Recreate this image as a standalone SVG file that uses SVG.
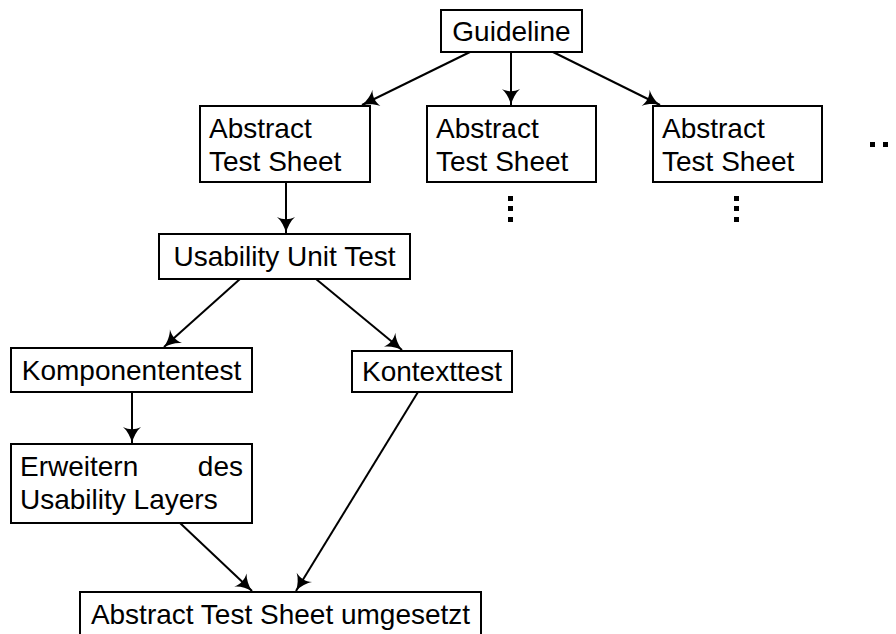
<svg xmlns="http://www.w3.org/2000/svg" width="896" height="634" viewBox="0 0 896 634">
<style>
.box{fill:#fff;stroke:#000;stroke-width:2}
.t{font-family:"Liberation Sans",Arial,Helvetica,sans-serif;font-size:28px;fill:#000}
.c{text-anchor:middle}
.e{text-anchor:end}
.ln{stroke:#000;stroke-width:2;fill:none;marker-end:url(#ah)}
.dot{fill:#000}
</style>
<defs>
<marker id="ah" markerUnits="userSpaceOnUse" markerWidth="22" markerHeight="22" viewBox="-2 -11 22 22" refX="16" refY="0" orient="auto">
<path d="M16,0 C10,1.5 4,4.5 0,9 C3,3 3,-3 0,-9 C4,-4.5 10,-1.5 16,0 Z" fill="#000"/>
</marker>
</defs>
<g id="connectors">
<line class="ln" x1="470" y1="52" x2="362" y2="105"/>
<line class="ln" x1="511" y1="52" x2="511" y2="105"/>
<line class="ln" x1="553" y1="52" x2="660" y2="105"/>
<line class="ln" x1="286" y1="182" x2="286" y2="233"/>
<line class="ln" x1="240" y1="279" x2="164" y2="347"/>
<line class="ln" x1="316" y1="279" x2="402" y2="350"/>
<line class="ln" x1="132" y1="392" x2="132" y2="443"/>
<line class="ln" x1="180" y1="523" x2="252" y2="591"/>
<line class="ln" x1="418" y1="392" x2="296" y2="591"/>
</g>
<g id="guideline">
<rect class="box" x="441" y="10" width="141" height="42"/>
<text class="t c" x="511.5" y="41">Guideline</text>
</g>
<g id="ats1">
<rect class="box" x="200" y="106" width="170" height="76"/>
<text class="t" x="209" y="138">Abstract</text>
<text class="t" x="209" y="171">Test Sheet</text>
</g>
<g id="ats2">
<rect class="box" x="427" y="106" width="169" height="76"/>
<text class="t" x="436" y="138">Abstract</text>
<text class="t" x="436" y="171">Test Sheet</text>
<rect class="dot" x="508" y="196" width="5" height="5"/>
<rect class="dot" x="508" y="206" width="5" height="5"/>
<rect class="dot" x="508" y="217" width="5" height="5"/>
</g>
<g id="ats3">
<rect class="box" x="653" y="106" width="169" height="76"/>
<text class="t" x="662" y="138">Abstract</text>
<text class="t" x="662" y="171">Test Sheet</text>
<rect class="dot" x="734" y="196" width="5" height="5"/>
<rect class="dot" x="734" y="206" width="5" height="5"/>
<rect class="dot" x="734" y="217" width="5" height="5"/>
</g>
<g id="more">
<rect class="dot" x="870" y="142" width="5" height="5"/>
<rect class="dot" x="883" y="142" width="5" height="5"/>
<rect class="dot" x="896" y="142" width="5" height="5"/>
</g>
<g id="uut">
<rect class="box" x="159" y="234" width="251" height="45"/>
<text class="t c" x="284.5" y="266">Usability Unit Test</text>
</g>
<g id="komponententest">
<rect class="box" x="11" y="348" width="241" height="44"/>
<text class="t c" x="131.5" y="380">Komponententest</text>
</g>
<g id="kontexttest">
<rect class="box" x="352" y="351" width="160" height="41"/>
<text class="t c" x="432" y="381">Kontexttest</text>
</g>
<g id="erweitern">
<rect class="box" x="11" y="444" width="241" height="79"/>
<text class="t" x="20" y="476">Erweitern</text>
<text class="t e" x="243" y="476">des</text>
<text class="t" x="20" y="509">Usability Layers</text>
</g>
<g id="umgesetzt">
<rect class="box" x="80" y="592" width="401" height="50"/>
<text class="t c" x="280.5" y="624">Abstract Test Sheet umgesetzt</text>
</g>
</svg>
